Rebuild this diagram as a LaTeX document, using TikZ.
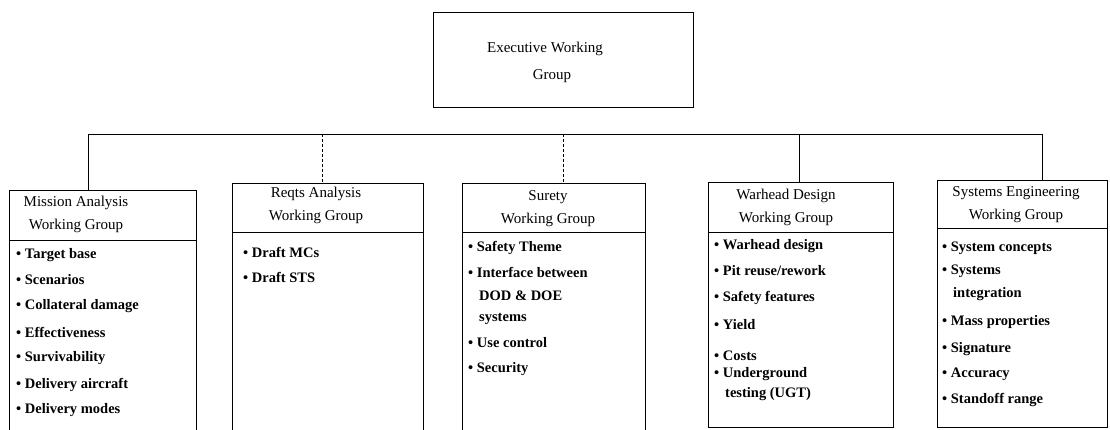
\documentclass[tikz,border=0pt]{standalone}
\usepackage{fontspec}
\setmainfont{Liberation Serif}
\usepackage{tikz}

\begin{document}
\begin{tikzpicture}[x=1pt, y=-1pt,
	wgbox/.style={draw, line width=0.9pt, inner sep=0pt, anchor=north west},
	hdr/.style={align=center, inner sep=0pt, font=\fontsize{15}{23}\selectfont},
	itm/.style={anchor=west, inner sep=0pt, font=\fontsize{14.5}{18}\selectfont\bfseries},
	link/.style={line width=0.9pt},
	faint/.style={line width=0.7pt, densely dashed}]
\clip (0,0) rectangle (1110,430);
\node[wgbox, minimum width=260pt, minimum height=95pt] (ewg) at (433,12) {};
\node[hdr, font=\fontsize{15}{27}\selectfont] (ewgtxt) at (545,62) {Executive Working\\\hspace*{14pt}Group};
\node[wgbox, minimum width=187pt, minimum height=260pt] (ma) at (9,190) {};
\node[wgbox, minimum width=191pt, minimum height=260pt] (ra) at (232,183) {};
\node[wgbox, minimum width=183pt, minimum height=260pt] (sy) at (462,183) {};
\node[wgbox, minimum width=185pt, minimum height=245pt] (wd) at (708,182) {};
\node[wgbox, minimum width=170pt, minimum height=247pt] (se) at (937,180) {};
\draw[link] (9,240) -- (196,240);
\draw[link] (232,232) -- (423,232);
\draw[link] (462,232) -- (645,232);
\draw[link] (708,232) -- (893,232);
\draw[link] (937,228) -- (1107,228);
\node[hdr] (mahdr) at (76,214) {Mission Analysis\\Working Group};
\node[hdr] (rahdr) at (316,205) {Reqts Analysis\\Working Group};
\node[hdr] (syhdr) at (548,209) {Surety\\Working Group};
\node[hdr] (wdhdr) at (786,207) {Warhead Design\\Working Group};
\node[hdr] (sehdr) at (1016,205) {Systems Engineering\\Working Group};
\coordinate (busma) at (88,134);
\coordinate (busra) at (322,134);
\coordinate (bussy) at (563,134);
\coordinate (buswd) at (799,134);
\coordinate (busse) at (1042,134);
\draw[link] (busma) -- (busse);
\draw[link] (busma) -- (busma |- ma.north);
\draw[faint] (busra) -- (busra |- ra.north);
\draw[faint] (bussy) -- (bussy |- sy.north);
\draw[link] (buswd) -- (buswd |- wd.north);
\draw[link] (busse) -- (busse |- se.north);
\node[itm] (ma1) at (16,255) {\textbullet\ Target base};
\node[itm] (ma2) at (16,280) {\textbullet\ Scenarios};
\node[itm] (ma3) at (16,306) {\textbullet\ Collateral damage};
\node[itm] (ma4) at (16,332) {\textbullet\ Effectiveness};
\node[itm] (ma5) at (16,358) {\textbullet\ Survivability};
\node[itm] (ma6) at (16,385) {\textbullet\ Delivery aircraft};
\node[itm] (ma7) at (16,410) {\textbullet\ Delivery modes};
\node[itm] (ra1) at (243,252) {\textbullet\ Draft MCs};
\node[itm] (ra2) at (243,277) {\textbullet\ Draft STS};
\node[itm] (sy1) at (468,248) {\textbullet\ Safety Theme};
\node[itm] (sy2) at (468,272) {\textbullet\ Interface between};
\node[itm] (sy2b) at (479,296) {DOD \& DOE};
\node[itm] (sy2c) at (479,319) {systems};
\node[itm] (sy3) at (468,343) {\textbullet\ Use control};
\node[itm] (sy4) at (468,369) {\textbullet\ Security};
\node[itm] (wd1) at (714,246) {\textbullet\ Warhead design};
\node[itm] (wd2) at (714,271) {\textbullet\ Pit reuse/rework};
\node[itm] (wd3) at (714,298) {\textbullet\ Safety features};
\node[itm] (wd4) at (714,325) {\textbullet\ Yield};
\node[itm] (wd5) at (714,356) {\textbullet\ Costs};
\node[itm] (wd6) at (714,374) {\textbullet\ Underground};
\node[itm] (wd6b) at (725,394) {testing (UGT)};
\node[itm] (se1) at (942,248) {\textbullet\ System concepts};
\node[itm] (se2) at (942,271) {\textbullet\ Systems};
\node[itm] (se2b) at (953,294) {integration};
\node[itm] (se3) at (942,322) {\textbullet\ Mass properties};
\node[itm] (se4) at (942,349) {\textbullet\ Signature};
\node[itm] (se5) at (942,374) {\textbullet\ Accuracy};
\node[itm] (se6) at (942,400) {\textbullet\ Standoff range};
\end{tikzpicture}
\end{document}
